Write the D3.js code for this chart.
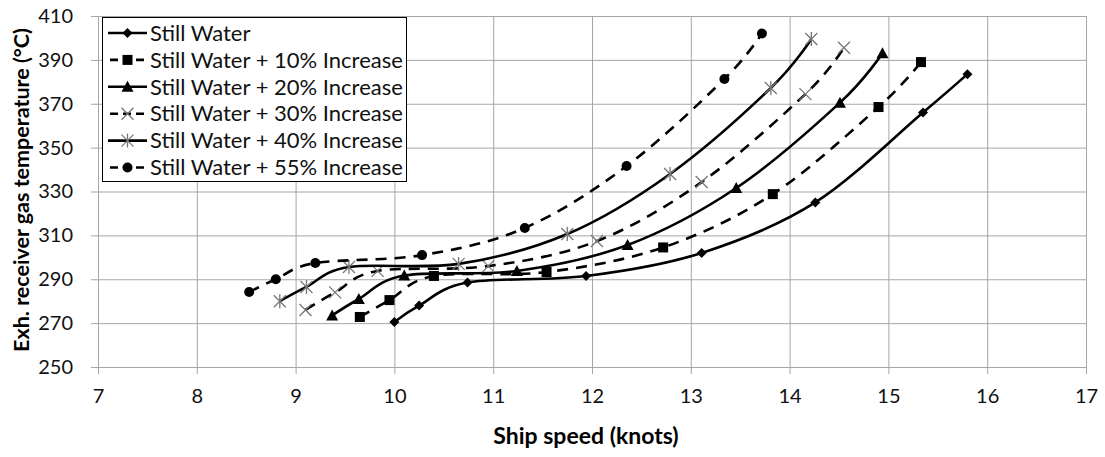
<!DOCTYPE html>
<html>
<head>
<meta charset="utf-8">
<script src="https://cdn.jsdelivr.net/npm/d3@7"></script>
<style>
  body { margin: 0; background: #fff; }
  svg { display: block; font-family: Lato, "Open Sans", sans-serif; }
</style>
</head>
<body>
<div id="chart"></div>
<script>
// values (knots, deg C)
const seriesNames = [
  "Still Water",
  "Still Water + 10% Increase",
  "Still Water + 20% Increase",
  "Still Water + 30% Increase",
  "Still Water + 40% Increase",
  "Still Water + 55% Increase"
];
const stillSpeed = [10.0, 10.25, 10.74, 11.94, 13.11, 14.26, 15.35, 15.8];
const stillTemp  = [270.5, 278, 288.5, 291.5, 302, 325, 366, 383.5];
const inc10Speed = [9.65, 9.95, 10.40, 11.54, 12.72, 13.83, 14.9, 15.33];
const inc10Temp  = [272.8, 280.5, 291.5, 293.3, 304.5, 328.8, 368.5, 389];
const inc20Speed = [9.37, 9.64, 10.10, 11.24, 12.36, 13.46, 14.51, 14.94];
const inc20Temp  = [273.5, 281, 291.7, 293.8, 305.6, 331.6, 370.5, 393];
const inc30Speed = [9.10, 9.40, 9.83, 10.95, 12.05, 13.11, 14.16, 14.55];
const inc30Temp  = [276, 284, 293.8, 296, 307.4, 334.3, 374.4, 395.5];
const inc40Speed = [8.84, 9.11, 9.54, 10.65, 11.75, 12.79, 13.81, 14.22];
const inc40Temp  = [280, 286.5, 295.6, 297, 310.6, 338, 377.2, 399.5];
const inc55Speed = [8.53, 8.80, 9.20, 10.28, 11.32, 12.35, 13.34, 13.72];
const inc55Temp  = [284.2, 290, 297.4, 301, 313.4, 341.6, 381.3, 402];

const xTicks = [7, 8, 9, 10, 11, 12, 13, 14, 15, 16, 17];
const yTicks = [250, 270, 290, 310, 330, 350, 370, 390, 410];

const speeds = [stillSpeed, inc10Speed, inc20Speed, inc30Speed, inc40Speed, inc55Speed];
const temps = [stillTemp, inc10Temp, inc20Temp, inc30Temp, inc40Temp, inc55Temp];
const markers = ["diamond", "square", "triangle", "cross", "star", "circle"];
const dashed = [false, true, false, true, false, true];

const width = 1105, height = 457;
const margin = {left: 98, right: 19, top: 16, bottom: 90};

const svg = d3.select("#chart").append("svg")
  .attr("width", width)
  .attr("height", height);

const x = d3.scaleLinear().domain([7, 17]).range([margin.left, width - margin.right]);
const y = d3.scaleLinear().domain([250, 410]).range([height - margin.bottom, margin.top]);

// gridlines
svg.append("g")
  .attr("transform", `translate(0, ${height - margin.bottom})`)
  .call(d3.axisBottom(x).tickValues(xTicks).tickSize(-(height - margin.top - margin.bottom)).tickFormat(""))
  .call(g => g.selectAll("line").attr("stroke", "#a6a6a6"))
  .call(g => g.select(".domain").remove());
svg.append("g")
  .attr("transform", `translate(${margin.left}, 0)`)
  .call(d3.axisLeft(y).tickValues(yTicks).tickSize(-(width - margin.left - margin.right)).tickFormat(""))
  .call(g => g.selectAll("line").attr("stroke", "#a6a6a6"))
  .call(g => g.select(".domain").remove());

// axes
let xAxis = svg.append("g")
  .attr("transform", `translate(0, ${height - margin.bottom})`)
  .call(d3.axisBottom(x).tickValues(xTicks).tickSize(7).tickPadding(15));
let yAxis = svg.append("g")
  .attr("transform", `translate(${margin.left}, 0)`)
  .call(d3.axisLeft(y).tickValues(yTicks).tickSize(7).tickPadding(18));

[xAxis, yAxis].forEach(g => {
  g.select(".domain").attr("stroke", "#a6a6a6");
  g.selectAll("line").attr("stroke", "#a6a6a6");
  g.selectAll("text").attr("font-size", "20px").attr("fill", "#111")
    .attr("font-family", "Lato, sans-serif");
});

svg.append("text")
  .attr("x", 586)
  .attr("y", 444)
  .attr("text-anchor", "middle")
  .attr("font-size", "23px")
  .attr("font-weight", "bold")
  .text("Ship speed (knots)");

svg.append("text")
  .attr("transform", `translate(29, 190) rotate(-90)`)
  .attr("text-anchor", "middle")
  .attr("font-size", "21.5px")
  .attr("font-weight", "bold")
  .text("Exh. receiver gas temperature (°C)");

const line = d3.line()
  .x(d => x(d[0]))
  .y(d => y(d[1]))
  .curve(d3.curveCatmullRom.alpha(0));

function drawMarker(g, type, cx, cy) {
  if (type === "diamond") {
    g.append("path").attr("d", `M${cx},${cy-5}L${cx+5},${cy}L${cx},${cy+5}L${cx-5},${cy}Z`).attr("fill", "#000");
  } else if (type === "square") {
    g.append("rect").attr("x", cx - 5).attr("y", cy - 5).attr("width", 10).attr("height", 10).attr("fill", "#000");
  } else if (type === "triangle") {
    g.append("path").attr("d", `M${cx},${cy-6}L${cx+6},${cy+5}L${cx-6},${cy+5}Z`).attr("fill", "#000");
  } else if (type === "circle") {
    g.append("circle").attr("cx", cx).attr("cy", cy).attr("r", 5).attr("fill", "#000");
  } else if (type === "cross") {
    g.append("path").attr("d", `M${cx-6},${cy-6}L${cx+6},${cy+6}M${cx-6},${cy+6}L${cx+6},${cy-6}`)
      .attr("stroke", "#777").attr("stroke-width", 1.3);
  } else if (type === "star") {
    g.append("path").attr("d", `M${cx-6},${cy-6}L${cx+6},${cy+6}M${cx-6},${cy+6}L${cx+6},${cy-6}M${cx},${cy-7}L${cx},${cy+7}`)
      .attr("stroke", "#777").attr("stroke-width", 1.3);
  }
}

speeds.forEach((sp, i) => {
  const pts = sp.map((s, j) => [s, temps[i][j]]);
  const g = svg.append("g");
  g.append("path")
    .attr("d", line(pts))
    .attr("fill", "none")
    .attr("stroke", "#000")
    .attr("stroke-width", 2.6)
    .attr("stroke-dasharray", dashed[i] ? "11,8" : null);
  pts.forEach(p => drawMarker(g, markers[i], x(p[0]), y(p[1])));
});

// legend
const legend = svg.append("g");
legend.append("rect")
  .attr("x", 102.5).attr("y", 17.5)
  .attr("width", 304).attr("height", 164)
  .attr("fill", "#fff").attr("stroke", "#000").attr("stroke-width", 1);

seriesNames.forEach((name, i) => {
  const ly = 33 + i * 26.9;
  legend.append("line")
    .attr("x1", 108).attr("x2", 147).attr("y1", ly).attr("y2", ly)
    .attr("stroke", "#000").attr("stroke-width", 2.6)
    .attr("stroke-dasharray", dashed[i] ? "8,5" : null)
    .attr("stroke-dashoffset", dashed[i] ? -2 : 0);
  drawMarker(legend, markers[i], 127.5, ly);
  legend.append("text")
    .attr("x", 150).attr("y", ly)
    .attr("dy", "0.35em")
    .attr("font-size", "22px")
    .attr("fill", "#111")
    .text(name);
});
</script>
</body>
</html>
